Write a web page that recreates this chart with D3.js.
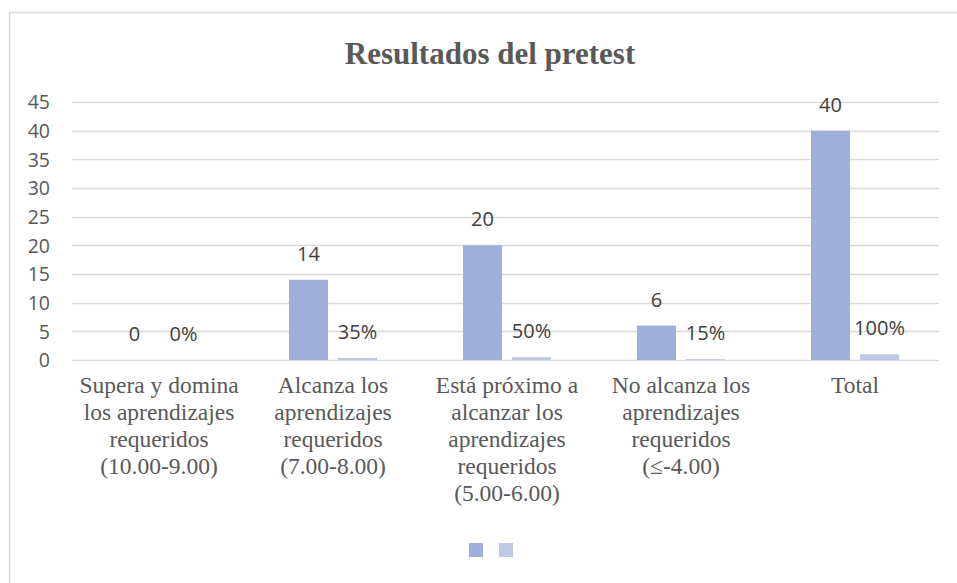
<!DOCTYPE html>
<html>
<head>
<meta charset="utf-8">
<script src="https://cdn.jsdelivr.net/npm/d3@7"></script>
<style>
    body { margin: 0; background: #fff; }
    svg { display: block; }
</style>
</head>
<body>
<div id="chart"></div>
<script>
// Chart data
const categories = [
    ['Supera y domina', 'los aprendizajes', 'requeridos', '(10.00-9.00)'],
    ['Alcanza los', 'aprendizajes', 'requeridos', '(7.00-8.00)'],
    ['Está próximo a', 'alcanzar los', 'aprendizajes', 'requeridos', '(5.00-6.00)'],
    ['No alcanza los', 'aprendizajes', 'requeridos', '(≤-4.00)'],
    ['Total']
];
const series = ['Estudiantes', 'Porcentaje'];
const counts = [0, 14, 20, 6, 40];
const shares = [0, 0.35, 0.5, 0.15, 1];
const yTicks = [0, 5, 10, 15, 20, 25, 30, 35, 40, 45];
const colors = ['#9fafd9', '#bfc9e5'];

const width = 957;
const height = 583;
const margin = { top: 102, right: 15, bottom: 223, left: 72 };

const svg = d3.select('#chart')
    .append('svg')
    .attr('width', width)
    .attr('height', height);

// Outer frame of the chart area
svg.append('rect')
    .attr('x', 9.5)
    .attr('y', 12.5)
    .attr('width', 960)
    .attr('height', 600)
    .style('fill', 'none')
    .style('stroke', '#d9d9d9')
    .style('stroke-width', '1.5px');

// Title
svg.append('text')
    .attr('x', 490)
    .attr('y', 64)
    .style('text-anchor', 'middle')
    .style('font-family', '"Liberation Serif", "Times New Roman", serif')
    .style('font-weight', 'bold')
    .style('font-size', '31px')
    .style('fill', '#595959')
    .text('Resultados del pretest');

// Scales
const x = d3.scaleBand()
    .domain(d3.range(categories.length))
    .range([margin.left, width - margin.right])
    .paddingInner(0.494)
    .paddingOuter(0.247);

const xInner = d3.scaleBand()
    .domain(d3.range(series.length))
    .range([0, x.bandwidth()])
    .paddingInner(0.204);

const y = d3.scaleLinear()
    .domain([0, 45])
    .range([height - margin.bottom - 0, margin.top]);

// Gridlines
svg.append('g')
    .selectAll('line')
    .data(yTicks)
    .enter()
    .append('line')
    .attr('x1', margin.left)
    .attr('x2', width - margin.right - 3)
    .attr('y1', d => Math.round(y(d)) + 0.5)
    .attr('y2', d => Math.round(y(d)) + 0.5)
    .style('stroke', '#d9d9d9')
    .style('stroke-width', '1.3px');

// Y axis labels
const yAxis = svg.append('g')
    .attr('transform', `translate(${margin.left - 22},0)`)
    .call(d3.axisLeft(y).tickValues(yTicks).tickSize(0).tickPadding(0));
yAxis.select('.domain').remove();
yAxis.selectAll('text')
    .style('font-family', '"Open Sans", sans-serif')
    .style('font-size', '19.5px')
    .style('fill', '#595959')
    .attr('dy', '0.35em');

// Bars
const values = [counts, shares];
const groups = svg.append('g')
    .selectAll('g')
    .data(categories.map((c, i) => i))
    .enter()
    .append('g')
    .attr('transform', i => `translate(${x(i)},0)`);

groups.selectAll('rect')
    .data(i => values.map((v, s) => ({ s, v: v[i] })))
    .enter()
    .append('rect')
    .attr('x', d => xInner(d.s))
    .attr('y', d => y(d.v))
    .attr('width', xInner.bandwidth())
    .attr('height', d => y(0) - y(d.v))
    .style('fill', d => colors[d.s]);

// Data labels
const pct = d3.format('.0%');
groups.selectAll('text')
    .data(i => values.map((v, s) => ({ s, v: v[i] })))
    .enter()
    .append('text')
    .attr('x', d => xInner(d.s) + xInner.bandwidth() / 2)
    .attr('y', d => y(d.v) - 19)
    .style('text-anchor', 'middle')
    .style('font-family', '"Open Sans", sans-serif')
    .style('font-size', '20px')
    .style('fill', '#404040')
    .text(d => d.s === 0 ? d.v : pct(d.v));

// Category labels
const catLabels = svg.append('g')
    .selectAll('text')
    .data(categories)
    .enter()
    .append('text')
    .attr('x', (d, i) => x(i) + x.bandwidth() / 2)
    .attr('y', 393)
    .style('text-anchor', 'middle')
    .style('font-family', '"Liberation Serif", "Times New Roman", serif')
    .style('font-size', '23.5px')
    .style('fill', '#595959');

catLabels.selectAll('tspan')
    .data(d => d)
    .enter()
    .append('tspan')
    .attr('x', function() { return this.parentNode.getAttribute('x'); })
    .attr('dy', (d, i) => i === 0 ? 0 : 27)
    .text(d => d);

// Legend (markers only)
svg.append('g')
    .selectAll('rect')
    .data(series)
    .enter()
    .append('rect')
    .attr('x', (d, i) => 469 + i * 30)
    .attr('y', 543)
    .attr('width', 14)
    .attr('height', 14)
    .style('fill', (d, i) => colors[i]);
</script>
</body>
</html>
